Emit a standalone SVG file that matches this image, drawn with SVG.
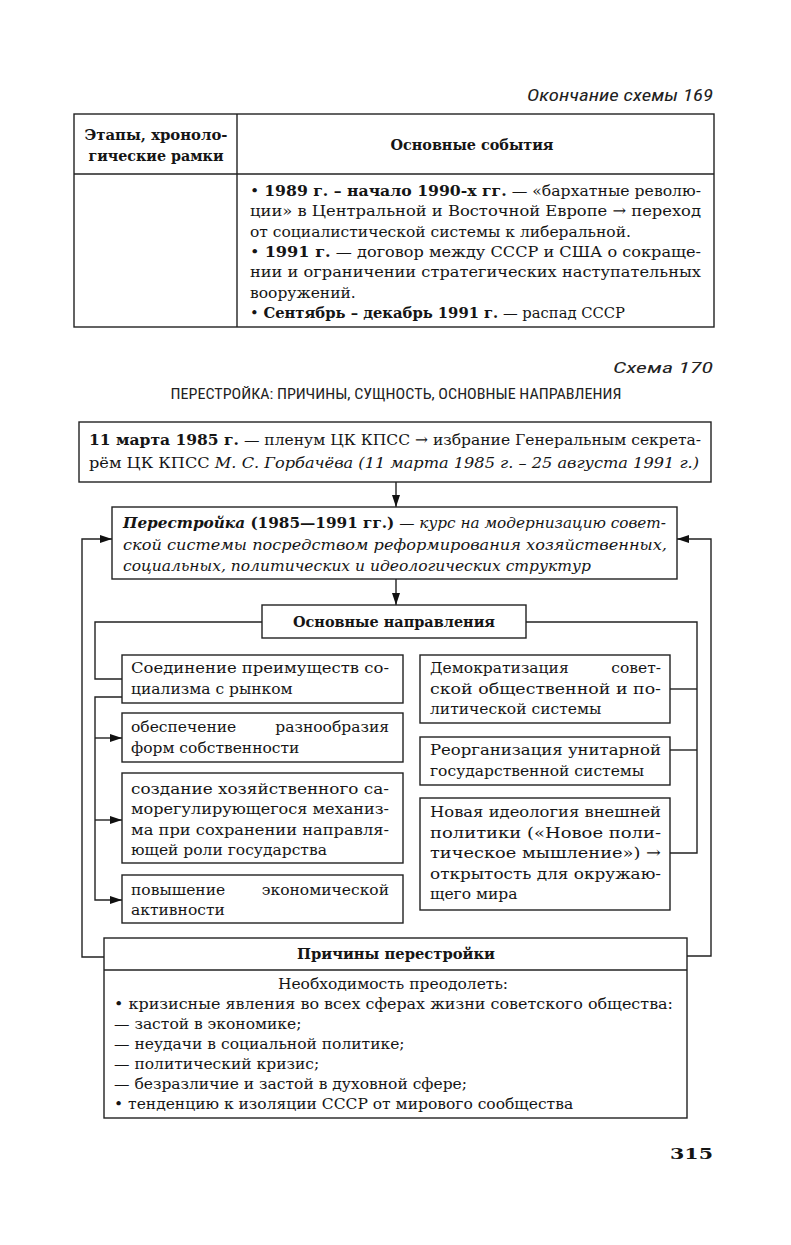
<svg xmlns="http://www.w3.org/2000/svg" width="791" height="1245" viewBox="0 0 791 1245">
<defs>
<marker id="ah" viewBox="0 0 12 8" refX="12" refY="4" markerWidth="12" markerHeight="8" markerUnits="userSpaceOnUse" orient="auto"><path d="M0,0 L12,4 L0,8 z" fill="#111"/></marker>
<style>
.t{font-family:"DejaVu Serif","Liberation Serif",serif;font-size:15.5px;fill:#151515}
.b{font-weight:bold}
.i{font-style:italic}
.s{font-family:"Liberation Sans Narrow","Roboto Condensed",Roboto,"Liberation Sans",sans-serif;fill:#222}
.box{fill:#fff;stroke:#222;stroke-width:1.4}
.ln{fill:none;stroke:#222;stroke-width:1.4}
</style>
</defs>
<rect width="791" height="1245" fill="#fff"/>

<g id="table169">
<text class="s i" x="713" y="101" font-size="17" text-anchor="end" textLength="186" lengthAdjust="spacingAndGlyphs">Окончание схемы 169</text>
<rect class="box" x="74" y="114" width="640" height="213" stroke-width="1.6"/>
<line class="ln" x1="74" y1="174" x2="714" y2="174"/>
<line class="ln" x1="237" y1="114" x2="237" y2="327"/>
<text class="t b" x="156" y="140" text-anchor="middle" textLength="143" lengthAdjust="spacingAndGlyphs">Этапы, хроноло-</text>
<text class="t b" x="156" y="161" text-anchor="middle" textLength="135" lengthAdjust="spacingAndGlyphs">гические рамки</text>
<text class="t b" x="472" y="150" text-anchor="middle" textLength="163" lengthAdjust="spacingAndGlyphs">Основные события</text>
<text class="t" x="250" y="196" textLength="451" lengthAdjust="spacingAndGlyphs">• <tspan class="b">1989 г. – начало 1990-х гг.</tspan> — «бархатные револю-</text>
<text class="t" x="250" y="216" textLength="451" lengthAdjust="spacingAndGlyphs">ции» в Центральной и Восточной Европе → переход</text>
<text class="t" x="250" y="237">от социалистической системы к либеральной.</text>
<text class="t" x="250" y="257" textLength="451" lengthAdjust="spacingAndGlyphs">• <tspan class="b">1991 г.</tspan> — договор между СССР и США о сокраще-</text>
<text class="t" x="250" y="277" textLength="451" lengthAdjust="spacingAndGlyphs">нии и ограничении стратегических наступательных</text>
<text class="t" x="250" y="298">вооружений.</text>
<text class="t" x="250" y="318" textLength="375" lengthAdjust="spacingAndGlyphs">• <tspan class="b">Сентябрь – декабрь 1991 г.</tspan> — распад СССР</text>
</g>

<g id="titles">
<text class="s i" x="713" y="373" font-size="15" text-anchor="end" textLength="100" lengthAdjust="spacingAndGlyphs">Схема 170</text>
<text class="s" x="396" y="399" font-size="14" text-anchor="middle" textLength="451" lengthAdjust="spacingAndGlyphs">ПЕРЕСТРОЙКА: ПРИЧИНЫ, СУЩНОСТЬ, ОСНОВНЫЕ НАПРАВЛЕНИЯ</text>
</g>

<g id="connectors">
<line class="ln" x1="396" y1="482" x2="396" y2="507" marker-end="url(#ah)"/>
<line class="ln" x1="396" y1="579" x2="396" y2="605" marker-end="url(#ah)"/>
<polyline class="ln" points="262,622 95,622 95,679 122,679"/>
<polyline class="ln" points="122,697 95,697 95,900 122,900" marker-end="url(#ah)"/>
<line class="ln" x1="95" y1="738" x2="122" y2="738" marker-end="url(#ah)"/>
<line class="ln" x1="95" y1="820" x2="122" y2="820" marker-end="url(#ah)"/>
<polyline class="ln" points="526,622 697,622 697,853 670,853"/>
<line class="ln" x1="670" y1="689" x2="697" y2="689"/>
<line class="ln" x1="670" y1="750" x2="697" y2="750"/>
<polyline class="ln" points="104,957 82,957 82,539 112,539" marker-end="url(#ah)"/>
<polyline class="ln" points="687,956 711,956 711,539 677,539" marker-end="url(#ah)"/>
</g>

<g id="election">
<rect class="box" x="79" y="422" width="632" height="60"/>
<text class="t" x="89" y="445" textLength="612" lengthAdjust="spacingAndGlyphs"><tspan class="b">11 марта 1985 г.</tspan> — пленум ЦК КПСС → избрание Генеральным секрета-</text>
<text class="t" x="89" y="468" textLength="610" lengthAdjust="spacingAndGlyphs">рём ЦК КПСС <tspan class="i">М. С. Горбачёва (11 марта 1985 г. – 25 августа 1991 г.)</tspan></text>
</g>

<g id="perestroika">
<rect class="box" x="112" y="507" width="565" height="72"/>
<text class="t" x="123" y="528" textLength="543" lengthAdjust="spacingAndGlyphs"><tspan class="b i">Перестройка</tspan><tspan class="b"> (1985—1991 гг.)</tspan><tspan class="i"> — курс на модернизацию совет-</tspan></text>
<text class="t i" x="123" y="550" textLength="544" lengthAdjust="spacingAndGlyphs">ской системы посредством реформирования хозяйственных,</text>
<text class="t i" x="123" y="571">социальных, политических и идеологических структур</text>
</g>

<g id="directions">
<rect class="box" x="262" y="605" width="264" height="33"/>
<text class="t b" x="394" y="627" text-anchor="middle" textLength="202" lengthAdjust="spacingAndGlyphs">Основные направления</text>
</g>

<g id="market">
<rect class="box" x="122" y="655" width="281" height="48"/>
<text class="t" x="131" y="673" textLength="258" lengthAdjust="spacingAndGlyphs">Соединение преимуществ со-</text>
<text class="t" x="131" y="694">циализма с рынком</text>
</g>

<g id="ownership">
<rect class="box" x="122" y="713" width="281" height="49"/>
<text class="t" x="131" y="732">обеспечение</text>
<text class="t" x="389" y="732" text-anchor="end">разнообразия</text>
<text class="t" x="131" y="753">форм собственности</text>
</g>

<g id="mechanism">
<rect class="box" x="122" y="773" width="281" height="90"/>
<text class="t" x="131" y="794" textLength="258" lengthAdjust="spacingAndGlyphs">создание хозяйственного са-</text>
<text class="t" x="131" y="814" textLength="258" lengthAdjust="spacingAndGlyphs">морегулирующегося механиз-</text>
<text class="t" x="131" y="835" textLength="258" lengthAdjust="spacingAndGlyphs">ма при сохранении направля-</text>
<text class="t" x="131" y="855">ющей роли государства</text>
</g>

<g id="activity">
<rect class="box" x="122" y="875" width="281" height="48"/>
<text class="t" x="131" y="895">повышение</text>
<text class="t" x="389" y="895" text-anchor="end">экономической</text>
<text class="t" x="131" y="915">активности</text>
</g>

<g id="democratization">
<rect class="box" x="420" y="655" width="250" height="68"/>
<text class="t" x="430" y="673">Демократизация</text>
<text class="t" x="661" y="673" text-anchor="end">совет-</text>
<text class="t" x="430" y="694" textLength="231" lengthAdjust="spacingAndGlyphs">ской общественной и по-</text>
<text class="t" x="430" y="714">литической системы</text>
</g>

<g id="reorganization">
<rect class="box" x="420" y="737" width="250" height="48"/>
<text class="t" x="430" y="755" textLength="231" lengthAdjust="spacingAndGlyphs">Реорганизация унитарной</text>
<text class="t" x="430" y="776">государственной системы</text>
</g>

<g id="ideology">
<rect class="box" x="420" y="798" width="250" height="112"/>
<text class="t" x="430" y="817" textLength="231" lengthAdjust="spacingAndGlyphs">Новая идеология внешней</text>
<text class="t" x="430" y="838" textLength="231" lengthAdjust="spacingAndGlyphs">политики («Новое поли-</text>
<text class="t" x="430" y="858" textLength="231" lengthAdjust="spacingAndGlyphs">тическое мышление») →</text>
<text class="t" x="430" y="879" textLength="231" lengthAdjust="spacingAndGlyphs">открытость для окружаю-</text>
<text class="t" x="430" y="899">щего мира</text>
</g>

<g id="causes">
<rect class="box" x="104" y="938" width="583" height="180"/>
<line class="ln" x1="104" y1="970" x2="687" y2="970"/>
<text class="t b" x="396" y="959" text-anchor="middle" textLength="198" lengthAdjust="spacingAndGlyphs">Причины перестройки</text>
<text class="t" x="393" y="989" text-anchor="middle">Необходимость преодолеть:</text>
<text class="t" x="114" y="1009" textLength="559" lengthAdjust="spacingAndGlyphs">• кризисные явления во всех сферах жизни советского общества:</text>
<text class="t" x="114" y="1029">— застой в экономике;</text>
<text class="t" x="114" y="1049">— неудачи в социальной политике;</text>
<text class="t" x="114" y="1069">— политический кризис;</text>
<text class="t" x="114" y="1089">— безразличие и застой в духовной сфере;</text>
<text class="t" x="114" y="1109">• тенденцию к изоляции СССР от мирового сообщества</text>
</g>

<text class="t b" x="713" y="1159" font-size="17" text-anchor="end" textLength="43" lengthAdjust="spacingAndGlyphs">315</text>
</svg>
